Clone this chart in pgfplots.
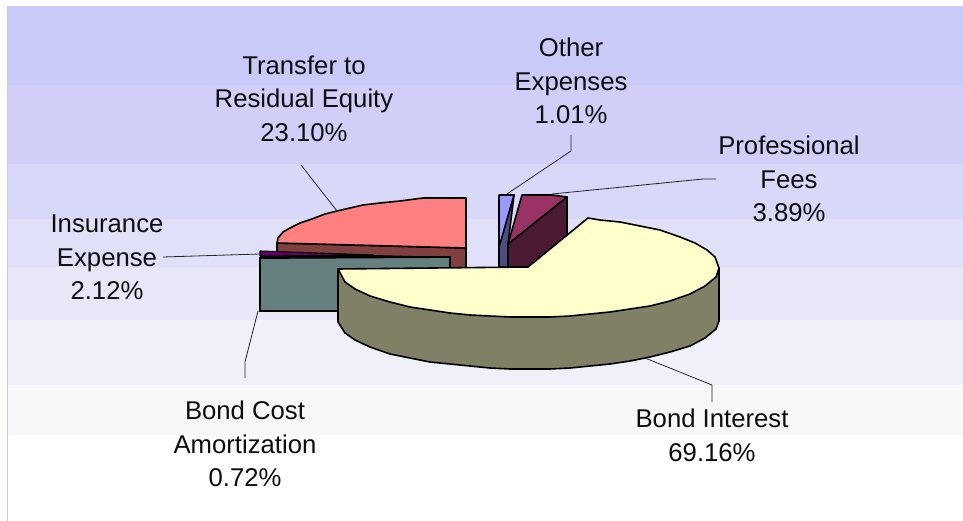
\documentclass[border=0pt]{standalone}
\usepackage{fontspec}
\setmainfont{Liberation Sans}
\usepackage{pgfplots}
\pgfplotsset{compat=1.18}
\definecolor{band1}{HTML}{CACAF8}
\definecolor{band2}{HTML}{D1CFF7}
\definecolor{band3}{HTML}{D8D8F8}
\definecolor{band4}{HTML}{E0E0F8}
\definecolor{band5}{HTML}{E8E7F8}
\definecolor{band6}{HTML}{F0F0FA}
\definecolor{band7}{HTML}{F8F8F8}
\definecolor{cream}{HTML}{FFFFCC}
\definecolor{creamside}{HTML}{808066}
\definecolor{wine}{HTML}{993366}
\definecolor{wineside}{HTML}{4D1A33}
\definecolor{peri}{HTML}{9999FF}
\definecolor{periside}{HTML}{4C4C80}
\definecolor{salmon}{HTML}{FF8080}
\definecolor{salmonside}{HTML}{804040}
\definecolor{plum}{HTML}{660066}
\definecolor{teal2}{HTML}{668080}
\tikzset{
    pie/.style={draw=black, line width=1.6pt, line join=round},
    leader/.style={draw=black!85, line width=0.8pt},
    lab/.style={align=center, anchor=center, font=\fontsize{25.7}{33.6}\selectfont, text=black!95},
}
\begin{document}
\begin{tikzpicture}
\begin{axis}[
    x=1pt, y=1pt,
    xmin=0, xmax=963, ymin=0, ymax=521,
    y dir=reverse,
    hide axis,
    scale only axis,
    clip=true,
]
% page background, keeps the full size
\addplot[fill=white, draw=none] coordinates {(0,0) (963,0) (963,521) (0,521)} --cycle;
% background bands
\addplot[fill=band1, draw=none] coordinates {(7,6) (963,6) (963,85) (7,85)} --cycle;
\addplot[fill=band2, draw=none] coordinates {(7,85) (963,85) (963,164) (7,164)} --cycle;
\addplot[fill=band3, draw=none] coordinates {(7,164) (963,164) (963,219) (7,219)} --cycle;
\addplot[fill=band4, draw=none] coordinates {(7,219) (963,219) (963,267) (7,267)} --cycle;
\addplot[fill=band5, draw=none] coordinates {(7,267) (963,267) (963,320) (7,320)} --cycle;
\addplot[fill=band6, draw=none] coordinates {(7,320) (963,320) (963,385) (7,385)} --cycle;
\addplot[fill=band7, draw=none] coordinates {(7,385) (963,385) (963,435) (7,435)} --cycle;
\addplot[draw=band1, line width=0.8pt] coordinates {(7,6) (7,521)};

% transfer to residual equity
\addplot[pie, fill=salmonside] coordinates {(277,243) (466,248) (466,268) (277,268)} --cycle;
\addplot[pie, fill=salmon] coordinates {(466,198) (466,248) (277,243) (278,238) (283,232) (290,228) (300,223) (312,219) (325,214) (337,211) (350,208) (363,205) (380,203) (400,201) (423,198)} --cycle;

% insurance expense
\addplot[fill=black, draw=none] coordinates {(260,255) (373,255) (450,257) (260,259)} --cycle;
\addplot[pie, fill=plum, line width=1.1pt] coordinates {(260,251) (373,255) (260,256)} --cycle;

% bond cost amortization
\addplot[draw=black, line width=1.8pt, fill=teal2] coordinates {(260,258) (450,257) (450,280) (450,311) (260,311)} --cycle;

% other expenses
\addplot[pie, fill=periside] coordinates {(499,244) (514,195) (508,244) (508,267) (499,267)} --cycle;
\addplot[pie, fill=peri] coordinates {(499,195) (514,195) (500,244) (499,244)} --cycle;

% professional fees
\addplot[pie, fill=wineside] coordinates {(508,244) (567,197) (567,240) (528,267) (508,267)} --cycle;
\addplot[pie, fill=wine] coordinates {(522,195) (552,195) (567,197) (508,244)} --cycle;

% bond interest side wall
\addplot[pie, fill=creamside] coordinates {
    (338,269) (338,322) (345,333) (355,340) (370,347) (390,354) (410,358) (430,362)
    (450,364) (470,366) (490,368) (510,369) (530,369) (550,369) (570,368) (590,366)
    (610,364) (630,361) (650,357) (670,352) (690,346) (705,338) (716,329) (719,321)
    (719,268)} --cycle;
% bond interest top
\addplot[pie, fill=cream] coordinates {
    (528,267) (588,218) (600,220) (620,222) (640,226) (660,230) (680,237) (695,243)
    (707,250) (715,257) (719,268) (716,277) (705,286) (690,294) (670,301) (650,306)
    (630,309) (610,312) (590,314) (570,316) (550,317) (530,317) (510,317) (490,316)
    (470,315) (450,313) (430,310) (410,307) (390,302) (370,296) (355,289) (345,282)
    (338,269)} --cycle;

% leader lines
\addplot[leader] coordinates {(337,211) (301,165)};
\addplot[leader] coordinates {(507,194) (571,151) (571,135)};
\addplot[leader] coordinates {(552,194) (703,179) (716,179)};
\addplot[leader] coordinates {(260,254) (163,257)};
\addplot[leader] coordinates {(258,311) (245,362) (245,378)};
\addplot[leader] coordinates {(645,358) (712,385) (712,402)};

% labels
\node[lab] at (axis cs:304,98.5) {Transfer to\\Residual Equity\\23.10\%};
\node[lab] at (axis cs:571,81) {Other\\Expenses\\1.01\%};
\node[lab] at (axis cs:789,179) {Professional\\Fees\\3.89\%};
\node[lab] at (axis cs:107,257.5) {Insurance\\Expense\\2.12\%};
\node[lab] at (axis cs:245,444) {Bond Cost\\Amortization\\0.72\%};
\node[lab] at (axis cs:712,435.5) {Bond Interest\\69.16\%};
\end{axis}
\end{tikzpicture}
\end{document}
